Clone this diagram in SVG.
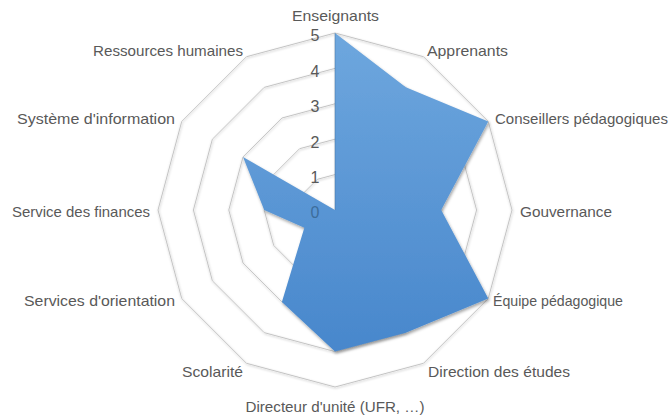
<svg xmlns="http://www.w3.org/2000/svg" width="671" height="417" viewBox="0 0 671 417">
<style>
.ring{fill:none;stroke:#c4c4c4;stroke-width:1}
.lbl{font-family:"Liberation Sans",Arial,sans-serif;font-size:15px;fill:#595959}
.num{font-family:"Liberation Sans",Arial,sans-serif;font-size:16px;fill:#595959;text-anchor:middle}
</style>
<defs>
<linearGradient id="blue" x1="0" y1="0" x2="0" y2="1">
<stop offset="0" stop-color="#6ea7de"/>
<stop offset="1" stop-color="#4887cc"/>
</linearGradient>
<filter id="sh" x="-10%" y="-10%" width="120%" height="120%">
<feDropShadow dx="1" dy="2" stdDeviation="1.5" flood-color="#000" flood-opacity="0.35"/>
</filter>
<filter id="rsh" x="-5%" y="-5%" width="110%" height="110%">
<feDropShadow dx="0.5" dy="1" stdDeviation="0.8" flood-color="#000" flood-opacity="0.25"/>
</filter>
</defs>
<rect width="671" height="417" fill="#ffffff"/>
<g id="grid" filter="url(#rsh)">
<polygon class="ring" points="335,174.6 352.7,179.34 365.66,192.3 370.4,210 365.66,227.7 352.7,240.66 335,245.4 317.3,240.66 304.34,227.7 299.6,210 304.34,192.3 317.3,179.34"/>
<polygon class="ring" points="335,139.2 370.4,148.69 396.31,174.6 405.8,210 396.31,245.4 370.4,271.31 335,280.8 299.6,271.31 273.69,245.4 264.2,210 273.69,174.6 299.6,148.69"/>
<polygon class="ring" points="335,103.8 388.1,118.03 426.97,156.9 441.2,210 426.97,263.1 388.1,301.97 335,316.2 281.9,301.97 243.03,263.1 228.8,210 243.03,156.9 281.9,118.03"/>
<polygon class="ring" points="335,68.4 405.8,87.37 457.63,139.2 476.6,210 457.63,280.8 405.8,332.63 335,351.6 264.2,332.63 212.37,280.8 193.4,210 212.37,139.2 264.2,87.37"/>
<polygon class="ring" points="335,33 423.5,56.71 488.29,121.5 512,210 488.29,298.5 423.5,363.29 335,387 246.5,363.29 181.71,298.5 158,210 181.71,121.5 246.5,56.71"/>
</g>
<g id="axis-numbers">
<text class="num" x="315" y="41">5</text>
<text class="num" x="315" y="77">4</text>
<text class="num" x="315" y="112">3</text>
<text class="num" x="315" y="148">2</text>
<text class="num" x="315" y="183">1</text>
</g>
<g id="series" filter="url(#sh)">
<polygon fill="url(#blue)" points="335,33 405.8,87.37 488.29,121.5 441.2,210 488.29,298.5 405.8,332.63 335,351.6 281.9,301.97 304.34,227.7 264.2,210 243.03,156.9 335,210"/>
</g>
<g id="value-axis">
<line x1="335" y1="33" x2="335" y2="210" stroke="#3f6f9f" stroke-opacity="0.5" stroke-width="1"/>
<text class="num" x="315" y="218" style="fill:#3d6d9b">0</text>
</g>
<g id="labels">
<text class="lbl" x="335.5" y="21" text-anchor="middle" textLength="87" lengthAdjust="spacingAndGlyphs">Enseignants</text>
<text class="lbl" x="427" y="56" textLength="81" lengthAdjust="spacingAndGlyphs">Apprenants</text>
<text class="lbl" x="495" y="124" textLength="173" lengthAdjust="spacingAndGlyphs">Conseillers pédagogiques</text>
<text class="lbl" x="520" y="217" textLength="92" lengthAdjust="spacingAndGlyphs">Gouvernance</text>
<text class="lbl" x="493" y="306" textLength="130" lengthAdjust="spacingAndGlyphs">Équipe pédagogique</text>
<text class="lbl" x="428" y="377" textLength="142" lengthAdjust="spacingAndGlyphs">Direction des études</text>
<text class="lbl" x="335" y="412" text-anchor="middle" textLength="179" lengthAdjust="spacingAndGlyphs">Directeur d'unité (UFR, …)</text>
<text class="lbl" x="243" y="377" text-anchor="end" textLength="61" lengthAdjust="spacingAndGlyphs">Scolarité</text>
<text class="lbl" x="175" y="306" text-anchor="end" textLength="151" lengthAdjust="spacingAndGlyphs">Services d'orientation</text>
<text class="lbl" x="150" y="217" text-anchor="end" textLength="138" lengthAdjust="spacingAndGlyphs">Service des finances</text>
<text class="lbl" x="175" y="124" text-anchor="end" textLength="158" lengthAdjust="spacingAndGlyphs">Système d'information</text>
<text class="lbl" x="243" y="56" text-anchor="end" textLength="150" lengthAdjust="spacingAndGlyphs">Ressources humaines</text>
</g>
</svg>
